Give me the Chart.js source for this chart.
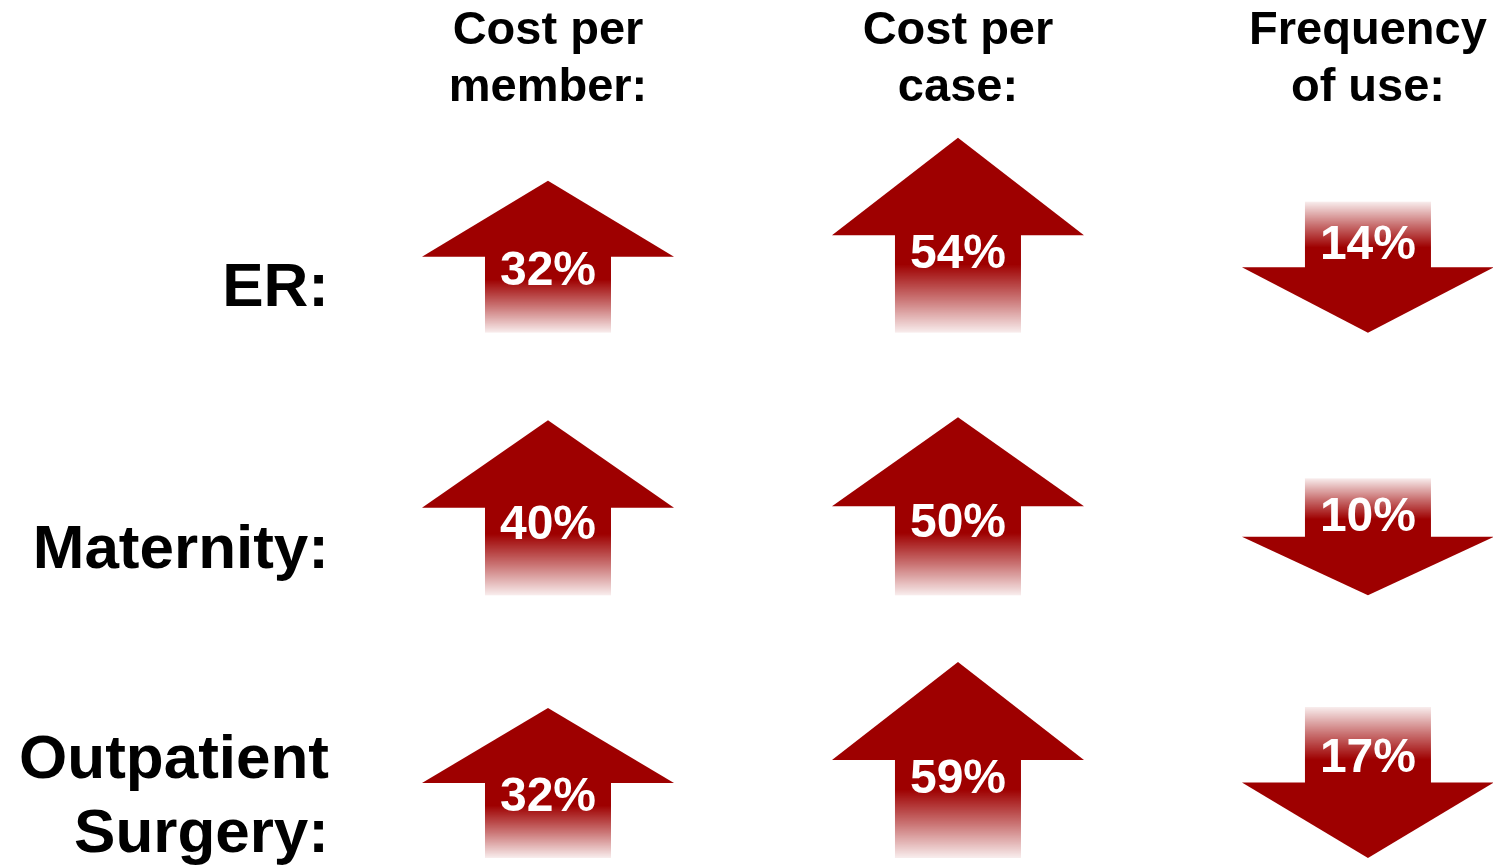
<!DOCTYPE html>
<html>
<head>
<meta charset="utf-8">
<script src="https://cdn.jsdelivr.net/npm/chart.js@4.4.0/dist/chart.umd.min.js"></script>
<style>
	html, body { margin: 0; padding: 0; background: #fff; }
	#wrap { width: 1493px; height: 868px; }
</style>
</head>
<body>
<div id="wrap"><canvas id="ChartArrows"></canvas></div>
<script>
// --------------
// DATA
// --------------
const columnLabels = [["Cost per", "member:"], ["Cost per", "case:"], ["Frequency", "of use:"]];
const rowLabels = ["ER:", "Maternity:", ["Outpatient", "Surgery:"]];

// change in %, per row (ER, Maternity, Outpatient Surgery)
const costPerMember = [32, 40, 32];
const costPerCase = [54, 50, 59];
const frequencyOfUse = [-14, -10, -17];

// arrow length as drawn, per row
const memberArrowLength = [152, 175, 150];
const caseArrowLength = [195, 178, 196];
const frequencyArrowLength = [131, 117, 151];

// --------------
// STYLE
// --------------
const FONT = "'Liberation Sans', Arial, sans-serif";
const RED = "158,0,0";
const HEADER_HEIGHT = 116;
const ROW_HEIGHT = 262.67;
const ROW_GAP = 10;
const rowBase = (i) => (i + 1) * ROW_HEIGHT - ROW_GAP;
const rowLabelPos = (i) => rowBase(i) - 44 - (Array.isArray(rowLabels[i]) ? 16 : 0);

const makeDataset = (label, col, values, lengths) => ({
	label: label,
	data: values.map((v, i) => ({
		x: col,
		y: v >= 0
			? [rowBase(i), rowBase(i) - lengths[i]]
			: [rowBase(i) - lengths[i], rowBase(i)],
		pct: v,
	})),
	backgroundColor: "rgba(0,0,0,0)",
	borderWidth: 0,
	barThickness: 252,
	grouped: false,
});

// draws each bar element as an arrow (head solid, shaft fading out)
const arrowPlugin = {
	id: "arrows",
	afterDatasetsDraw(chart) {
		const ctx = chart.ctx;
		chart.data.datasets.forEach((ds, d) => {
			const meta = chart.getDatasetMeta(d);
			meta.data.forEach((bar, j) => {
				const { x, y, base, width } = bar.getProps(["x", "y", "base", "width"], true);
				const pct = ds.data[j].pct;
				const up = pct >= 0;
				const top = Math.min(y, base);
				const bottom = Math.max(y, base);
				const len = bottom - top;
				const head = len / 2;
				const half = width / 2;
				const shaft = width / 4;
				const tip = up ? top : bottom;
				const tail = up ? bottom : top;
				const neck = up ? top + head : bottom - head;

				ctx.save();
				// shaft
				const g = ctx.createLinearGradient(0, neck, 0, tail);
				g.addColorStop(0, `rgba(${RED},1)`);
				g.addColorStop(0.3, `rgba(${RED},1)`);
				g.addColorStop(0.65, `rgba(${RED},0.55)`);
				g.addColorStop(1, `rgba(${RED},0.07)`);
				ctx.fillStyle = g;
				if (up) {
					ctx.fillRect(x - shaft, neck - 1, shaft * 2, head + 1);
				} else {
					ctx.fillRect(x - shaft, tail, shaft * 2, head + 1);
				}
				// head
				ctx.fillStyle = `rgb(${RED})`;
				ctx.beginPath();
				ctx.moveTo(x - half, neck);
				ctx.lineTo(x, tip);
				ctx.lineTo(x + half, neck);
				ctx.closePath();
				ctx.fill();
				// label
				ctx.fillStyle = "#fff";
				ctx.font = `bold 48px ${FONT}`;
				ctx.textAlign = "center";
				ctx.textBaseline = "middle";
				ctx.fillText(Math.abs(pct) + "%", x, tip + (up ? 0.6 : -0.66) * len);
				ctx.restore();
			});
		});
	},
};

const dataArrows = {
	datasets: [
		makeDataset("Cost per member", 0, costPerMember, memberArrowLength),
		makeDataset("Cost per case", 1, costPerCase, caseArrowLength),
		makeDataset("Frequency of use", 2, frequencyOfUse, frequencyArrowLength),
	],
};

const configArrows = {
	type: "bar",
	data: dataArrows,
	plugins: [arrowPlugin],
	options: {
		responsive: true,
		maintainAspectRatio: false,
		animation: false,
		events: [],
		layout: { padding: 0 },
		plugins: {
			legend: { display: false },
			tooltip: { enabled: false },
		},
		scales: {
			x: {
				type: "linear",
				position: "top",
				bounds: "data",
				offset: false,
				min: -0.5,
				max: 2.305,
				grid: { display: false, drawTicks: false, offset: false },
				border: { display: false },
				afterBuildTicks: (scale) => {
					scale.ticks = columnLabels.map((c, i) => ({ value: i }));
				},
				ticks: {
					callback: (v, i) => columnLabels[i],
					font: { family: FONT, size: 47, weight: "bold", lineHeight: 1.2 },
					color: "#000",
					padding: 0,
					maxRotation: 0,
					autoSkip: false,
				},
				afterFit: (scale) => {
					scale.height = HEADER_HEIGHT;
					scale.paddingLeft = 0;
					scale.paddingRight = 0;
				},
			},
			y: {
				type: "linear",
				reverse: true,
				bounds: "data",
				min: 3 * ROW_HEIGHT - (868 - HEADER_HEIGHT),
				max: 3 * ROW_HEIGHT,
				grid: { display: false, drawTicks: false },
				border: { display: false },
				afterBuildTicks: (scale) => {
					scale.ticks = rowLabels.map((r, i) => ({ value: rowLabelPos(i) }));
				},
				ticks: {
					callback: (v, i) => rowLabels[i],
					font: { family: FONT, size: 62, weight: "bold", lineHeight: 1.2 },
					color: "#000",
					padding: 14,
					autoSkip: false,
				},
				afterFit: (scale) => {
					scale.width = 343;
					scale.paddingTop = 0;
					scale.paddingBottom = 0;
				},
			},
		},
	},
};

const ChartArrows = new Chart(
	document.getElementById("ChartArrows"),
	configArrows
);
</script>
</body>
</html>
